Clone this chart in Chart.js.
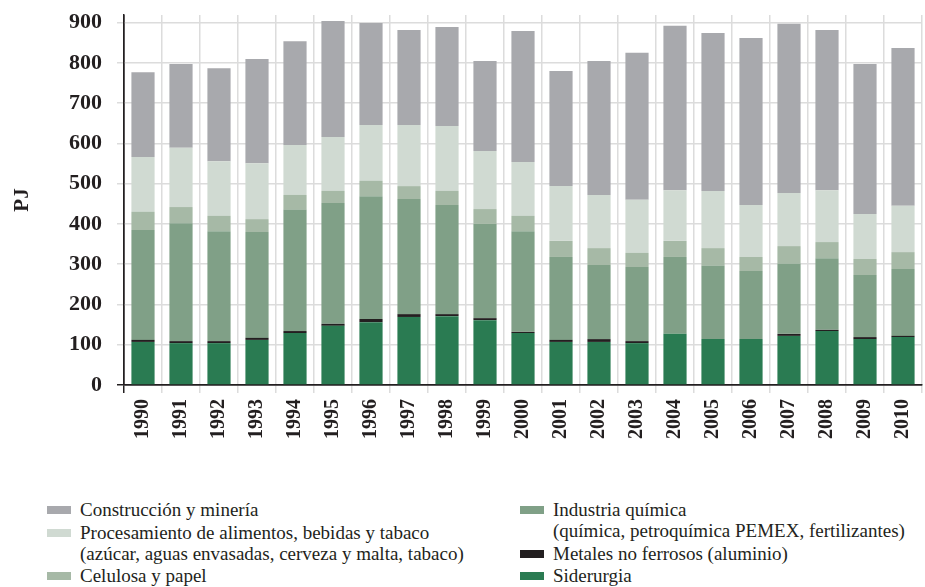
<!DOCTYPE html>
<html>
<head>
<meta charset="utf-8">
<script src="https://cdn.jsdelivr.net/npm/chart.js@4.4.1/dist/chart.umd.min.js"></script>
<style>
  html, body { margin: 0; padding: 0; background: #fff; }
  #wrap { position: relative; width: 925px; height: 587px; }
  #chartBox { position: absolute; left: 0; top: 0; width: 925px; height: 470px; }
  #legend {
    position: absolute; left: 47px; top: 499px; width: 878px;
    display: flex; font-family: "Liberation Serif", serif; font-size: 19px;
    line-height: 21px; color: #231f20;
  }
  .col { display: flex; flex-direction: column; gap: 1.5px; }
  .col.left { width: 473px; }
  .item { display: flex; align-items: flex-start; }
  .sw { width: 24px; height: 8px; margin-top: 7px; margin-right: 9px; flex: none; }
  .txt { white-space: pre-line; }
</style>
</head>
<body>
<div id="wrap">
  <div id="chartBox"><canvas id="energyChart"></canvas></div>
  <div id="legend"></div>
</div>
<script>
// ---- data (PJ) ----
const years = ["1990","1991","1992","1993","1994","1995","1996","1997","1998","1999","2000",
               "2001","2002","2003","2004","2005","2006","2007","2008","2009","2010"];

const siderurgia   = [107,104,104,112,129,147,156,169,171,161,129,107,107,104,127,114,114,122,134,114,119];
const metales      = [5,5,5,5,5,5,8,7,5,5,3,5,7,5,0,0,0,5,3,5,3];
const quimica      = [273,293,273,263,301,300,305,286,271,234,250,206,184,184,191,182,169,174,178,154,166];
const celulosa     = [45,40,38,32,37,30,38,32,35,37,38,40,42,35,40,44,35,44,40,40,42];
const alimentos    = [136,147,136,139,124,134,139,152,161,144,134,136,132,132,126,142,129,132,129,112,115];
const construccion = [211,208,231,259,258,288,253,236,246,224,325,286,333,365,408,392,415,420,398,372,392];

const yTicks = [0,100,200,300,400,500,600,700,800,900];

const ink = "#231f20";
const gridColor = "#dcdcdc";

const datasets = [
    { label: "Siderurgia", data: siderurgia, backgroundColor: "#2a7b52" },
    { label: "Metales no ferrosos (aluminio)", data: metales, backgroundColor: "#231f20" },
    { label: "Industria química\n(química, petroquímica PEMEX, fertilizantes)", data: quimica, backgroundColor: "#80a087" },
    { label: "Celulosa y papel", data: celulosa, backgroundColor: "#a6b9a6" },
    { label: "Procesamiento de alimentos, bebidas y tabaco\n(azúcar, aguas envasadas, cerveza y malta, tabaco)", data: alimentos, backgroundColor: "#d0dad2" },
    { label: "Construcción y minería", data: construccion, backgroundColor: "#a8a9ad" },
];

datasets.forEach((d) => {
    d.borderWidth = 0;
    d.barPercentage = 0.61;
    d.categoryPercentage = 1.0;
});

new Chart(document.getElementById("energyChart"), {
    type: "bar",
    data: { labels: years, datasets },
    options: {
        responsive: true,
        maintainAspectRatio: false,
        animation: false,
        layout: { padding: { top: 15, right: 3, left: 0, bottom: 0 } },
        plugins: { legend: { display: false }, tooltip: { enabled: false } },
        scales: {
            x: {
                stacked: true,
                grid: {
                    color: (ctx) => (ctx.index === 0 ? ink : gridColor),
                    lineWidth: 1.5, tickLength: 8, offset: true,
                },
                border: { color: ink, width: 1.5 },
                ticks: {
                    minRotation: 90, maxRotation: 90, padding: 6, color: ink,
                    font: { family: "Liberation Serif", size: 20, weight: "bold" },
                },
                afterFit: (scale) => {
                    scale.height = 85;
                    scale.paddingLeft = 0;
                    scale.paddingRight = 0;
                },
            },
            y: {
                stacked: true,
                min: 0,
                max: 919,
                afterBuildTicks: (scale) => { scale.ticks = yTicks.map((v) => ({ value: v })); },
                grid: {
                    color: (ctx) => (ctx.tick && ctx.tick.value === 0 ? ink : gridColor),
                    lineWidth: 1.5, tickLength: 7,
                },
                border: { color: ink, width: 1.5 },
                ticks: {
                    padding: 15, color: ink,
                    font: { family: "Liberation Serif", size: 22, weight: "bold" },
                },
                title: {
                    display: true, text: "PJ", color: ink,
                    padding: { top: 10, bottom: 0 },
                    font: { family: "Liberation Serif", size: 21, weight: "bold" },
                },
                afterFit: (scale) => {
                    scale.width = 124;
                    scale.paddingTop = 0;
                    scale.paddingBottom = 0;
                },
            },
        },
    },
});

/* ---- legend, two columns, top of stack first ---- */
const legend = document.getElementById("legend");
[[5, 4, 3], [2, 1, 0]].forEach((idxs, c) => {
    const col = document.createElement("div");
    col.className = "col" + (c === 0 ? " left" : "");
    idxs.forEach((i) => {
        const item = document.createElement("div");
        item.className = "item";
        const sw = document.createElement("span");
        sw.className = "sw";
        sw.style.background = datasets[i].backgroundColor;
        const txt = document.createElement("span");
        txt.className = "txt";
        txt.textContent = datasets[i].label;
        item.appendChild(sw);
        item.appendChild(txt);
        col.appendChild(item);
    });
    legend.appendChild(col);
});
</script>
</body>
</html>
